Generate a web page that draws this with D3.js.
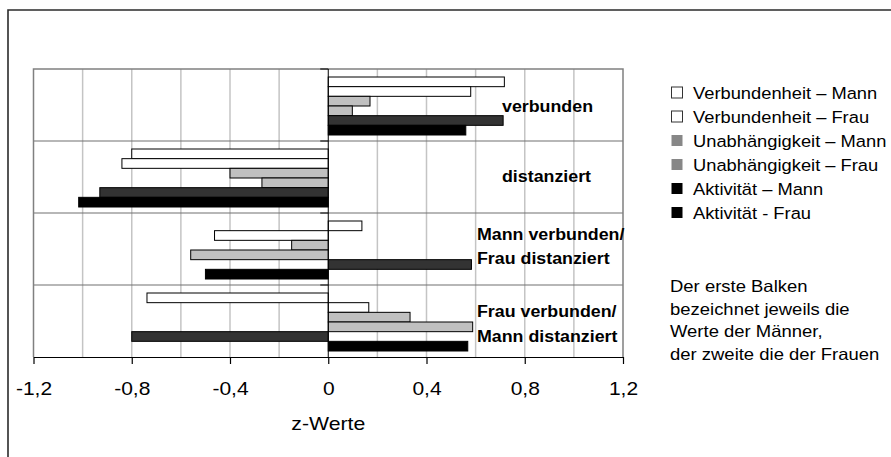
<!DOCTYPE html>
<html>
<head>
<meta charset="utf-8">
<script src="https://cdn.jsdelivr.net/npm/d3@7"></script>
<style>
  html, body { margin: 0; padding: 0; background: #fff; }
  svg { display: block; font-family: "Liberation Sans", Arial, sans-serif; }
</style>
</head>
<body>
<svg id="chart" width="891" height="457"></svg>
<script>
// ---------------- data ----------------
const categories = ["verbunden", "distanziert", "Mann verbunden/Frau distanziert", "Frau verbunden/Mann distanziert"];
const categoryLines = [["verbunden"], ["distanziert"], ["Mann verbunden/", "Frau distanziert"], ["Frau verbunden/", "Mann distanziert"]];
const series = ["Verbundenheit – Mann", "Verbundenheit – Frau", "Unabhängigkeit – Mann", "Unabhängigkeit – Frau", "Aktivität – Mann", "Aktivität - Frau"];
const verbundenheitMann = [0.717, -0.80, 0.137, -0.738];
const verbundenheitFrau = [0.58, -0.84, -0.463, 0.165];
const unabhaengigkeitMann = [0.17, -0.40, -0.149, 0.333];
const unabhaengigkeitFrau = [0.098, -0.27, -0.56, 0.588];
const aktivitaetMann = [0.712, -0.93, 0.583, -0.80];
const aktivitaetFrau = [0.56, -1.016, -0.50, 0.568];
const seriesValues = [verbundenheitMann, verbundenheitFrau, unabhaengigkeitMann, unabhaengigkeitFrau, aktivitaetMann, aktivitaetFrau];
const tickValues = [-1.2, -0.8, -0.4, 0, 0.4, 0.8, 1.2];
const gridValues = [-1.0, -0.8, -0.6, -0.4, -0.2, 0.2, 0.4, 0.6, 0.8, 1.0];
const axisTitle = "z-Werte";
const noteLines = ["Der erste Balken", "bezeichnet jeweils die", "Werte der Männer,", "der zweite die der Frauen"];

// ---------------- styles ----------------
const barFill = ["#ffffff", "#ffffff", "#c0c0c0", "#c0c0c0", "#333333", "#000000"];
const legendFill = ["#ffffff", "#ffffff", "#878787", "#878787", "#000000", "#000000"];

const svg = d3.select("#chart");
const plot = { left: 33.5, right: 623, top: 69, bottom: 357 };

// outer frame
svg.append("path")
  .attr("d", `M8,457 L8,10 L891,10`)
  .attr("fill", "none").attr("stroke", "#2b2b2b").attr("stroke-width", 1.6);

const x = d3.scaleLinear().domain([-1.2, 1.2]).range([plot.left, plot.right]);
const yBand = d3.scaleBand().domain(categories).range([plot.top, plot.bottom]);
const yInner = d3.scaleBand().domain(series).range([8, 66]);

// gridlines
svg.append("g").selectAll("line").data(gridValues).join("line")
  .attr("x1", d => x(d)).attr("x2", d => x(d))
  .attr("y1", plot.top).attr("y2", plot.bottom)
  .attr("stroke", "#c4c4c4").attr("stroke-width", 1.5);

// category separators
svg.append("g").selectAll("line").data(categories.slice(1)).join("line")
  .attr("x1", plot.left).attr("x2", plot.right)
  .attr("y1", d => yBand(d)).attr("y2", d => yBand(d))
  .attr("stroke", "#707070").attr("stroke-width", 1.2);

// plot border (top, left, right)
svg.append("path")
  .attr("d", `M${plot.left},${plot.bottom} L${plot.left},${plot.top} L${plot.right},${plot.top} L${plot.right},${plot.bottom}`)
  .attr("fill", "none").attr("stroke", "#808080").attr("stroke-width", 1.5);

// bars
const barData = [];
categories.forEach((c, ci) => {
  series.forEach((s, si) => barData.push({ c, s, si, v: seriesValues[si][ci] }));
});
svg.append("g").selectAll("rect").data(barData).join("rect")
  .attr("x", d => x(Math.min(0, d.v)))
  .attr("width", d => Math.abs(x(d.v) - x(0)))
  .attr("y", d => yBand(d.c) + yInner(d.s))
  .attr("height", yInner.bandwidth())
  .attr("fill", d => barFill[d.si])
  .attr("stroke", "#000").attr("stroke-width", 1);

// vertical axis at zero with category ticks
svg.append("line")
  .attr("x1", x(0)).attr("x2", x(0)).attr("y1", plot.top).attr("y2", plot.bottom)
  .attr("stroke", "#000").attr("stroke-width", 1);
svg.append("g").selectAll("line").data(categories).join("line")
  .attr("x1", x(0) - 8).attr("x2", x(0))
  .attr("y1", d => yBand(d)).attr("y2", d => yBand(d))
  .attr("stroke", "#000").attr("stroke-width", 1);

// bottom axis
const fmt = d => d === 0 ? "0" : d3.format(".1f")(d).replace("−", "-").replace(".", ",");
const xAxis = svg.append("g")
  .attr("transform", `translate(0,${plot.bottom})`)
  .call(d3.axisBottom(x).tickValues(tickValues).tickFormat(fmt).tickSize(7).tickSizeOuter(0));
xAxis.select(".domain").attr("stroke", "#000").attr("stroke-width", 1.2);
xAxis.selectAll(".tick line").attr("stroke", "#000").attr("stroke-width", 1.2);
xAxis.selectAll(".tick text")
  .attr("y", 38).attr("dy", 0)
  .attr("font-size", 17.5).attr("fill", "#000")
  .attr("font-family", "Liberation Sans, Arial, sans-serif")
  .attr("transform", "scale(1.2,1)");

// helper for stretched text
function stext(g, str, px, py, size, sx, anchor, weight) {
  return g.append("text")
    .attr("transform", `translate(${px},${py}) scale(${sx},1)`)
    .attr("text-anchor", anchor || "start")
    .attr("font-size", size)
    .attr("font-weight", weight || "normal")
    .attr("fill", "#000")
    .text(str);
}

// axis title
stext(svg, axisTitle, x(0), 430, 18, 1.18, "middle");

// category labels
const labelX = [502, 502, 477, 477];
const labelBase = [[111.5], [181.5], [240, 264], [316.5, 341.5]];
categoryLines.forEach((lines, ci) => {
  lines.forEach((ln, li) => stext(svg, ln, labelX[ci], labelBase[ci][li], 16.5, 1.08, "start", "bold"));
});

// legend
const lg = svg.append("g");
series.forEach((s, i) => {
  const cy = 92.5 + i * 24;
  lg.append("rect").attr("x", 671.5).attr("y", cy - 5.5).attr("width", 11).attr("height", 11)
    .attr("fill", legendFill[i])
    .attr("stroke", i < 2 ? "#333" : "none").attr("stroke-width", 1);
  stext(lg, s, 693, cy + 6, 16.5, 1.11, "start");
});

// note
noteLines.forEach((t, i) => stext(svg, t, 670, 292 + i * 22.5, 16.5, 1.12, "start"));
</script>
</body>
</html>
